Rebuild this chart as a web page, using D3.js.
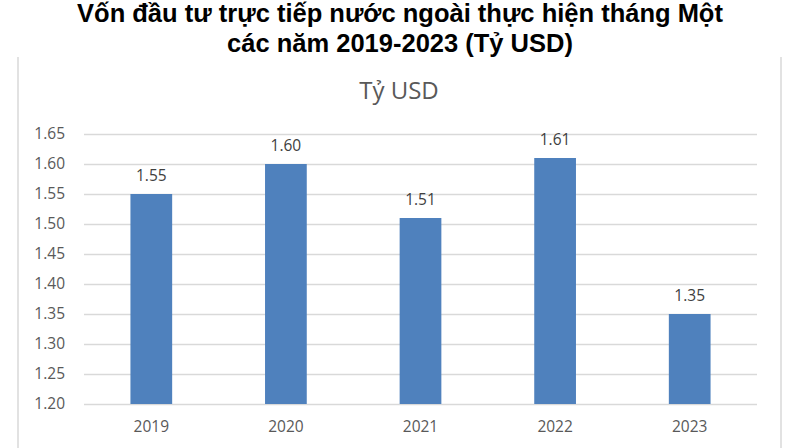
<!DOCTYPE html>
<html>
<head>
<meta charset="utf-8">
<script src="https://cdn.jsdelivr.net/npm/d3@7"></script>
<style>
  html, body { margin: 0; padding: 0; background: #fff; }
  svg { display: block; }
</style>
</head>
<body>
<svg id="chart" width="800" height="448"></svg>
<script>
const categories = ["2019", "2020", "2021", "2022", "2023"];
const values = [1.55, 1.60, 1.51, 1.61, 1.35];
const yTicks = [1.20, 1.25, 1.30, 1.35, 1.40, 1.45, 1.50, 1.55, 1.60, 1.65];
const titleLines = ["Vốn đầu tư trực tiếp nước ngoài thực hiện tháng Một", "các năm 2019-2023 (Tỷ USD)"];
const chartTitle = "Tỷ USD";

const svg = d3.select("#chart");
const W = 800, H = 448;
const margin = {left: 84, right: 43, top: 134, bottom: 44};
const labelFont = "Open Sans, Liberation Sans, sans-serif";

// chart area border (only sides visible in reference)
svg.append("g").selectAll("line").data([18, 781]).join("line")
  .attr("x1", d => d).attr("x2", d => d)
  .attr("y1", 57).attr("y2", H)
  .attr("stroke", "#d9d9d9").attr("stroke-width", 1.5);

// main title
svg.append("g").selectAll("text").data(titleLines).join("text")
  .attr("x", 400).attr("y", (d, i) => 22 + i * 30)
  .attr("text-anchor", "middle")
  .attr("font-family", "Liberation Sans, Arial, sans-serif")
  .attr("font-weight", "bold").attr("font-size", 25.5)
  .attr("fill", "#000")
  .text(d => d);

// chart title
svg.append("text")
  .attr("x", 399).attr("y", 98.5)
  .attr("text-anchor", "middle")
  .attr("font-family", labelFont)
  .attr("font-size", 24).attr("fill", "#595959")
  .text(chartTitle);

const x = d3.scaleBand().domain(categories)
  .range([margin.left, W - margin.right])
  .paddingInner(0.69).paddingOuter(0.345);
const y = d3.scaleLinear().domain([1.20, 1.65])
  .range([H - margin.bottom, margin.top]);

// gridlines
svg.append("g").selectAll("line").data(yTicks).join("line")
  .attr("x1", margin.left).attr("x2", W - margin.right)
  .attr("y1", d => Math.round(y(d)) + 0.5).attr("y2", d => Math.round(y(d)) + 0.5)
  .attr("stroke", "#d9d9d9").attr("stroke-width", 1.3);

// y axis
const yAxis = svg.append("g")
  .attr("transform", `translate(${margin.left - 19},0)`)
  .call(d3.axisLeft(y).tickValues(yTicks).tickFormat(d3.format(".2f")).tickSize(0).tickPadding(0));
yAxis.select(".domain").remove();
yAxis.selectAll("text")
  .attr("font-family", labelFont)
  .attr("font-size", 15.5).attr("fill", "#595959");

// x axis
const xAxis = svg.append("g")
  .attr("transform", `translate(0,${H - margin.bottom})`)
  .call(d3.axisBottom(x).tickSize(0).tickPadding(17));
xAxis.select(".domain").remove();
xAxis.selectAll("text")
  .attr("font-family", labelFont)
  .attr("font-size", 15.5).attr("fill", "#595959");

// bars
svg.append("g").selectAll("rect").data(values).join("rect")
  .attr("x", (d, i) => x(categories[i]))
  .attr("y", d => y(d))
  .attr("width", x.bandwidth())
  .attr("height", d => y(1.20) - y(d))
  .attr("fill", "#4f81bd");

// data labels
svg.append("g").selectAll("text").data(values).join("text")
  .attr("x", (d, i) => x(categories[i]) + x.bandwidth() / 2)
  .attr("y", d => y(d) - 13)
  .attr("text-anchor", "middle")
  .attr("font-family", labelFont)
  .attr("font-size", 15.5).attr("fill", "#404040")
  .text(d => d3.format(".2f")(d));
</script>
</body>
</html>
